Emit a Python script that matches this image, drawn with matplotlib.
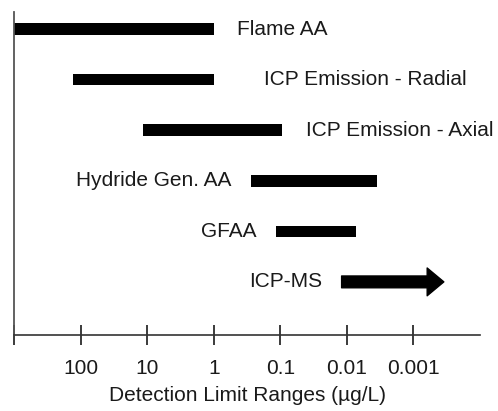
import matplotlib.pyplot as plt
import numpy as np
from matplotlib.ticker import NullLocator

methods = ['Flame AA', 'ICP Emission - Radial', 'ICP Emission - Axial',
           'Hydride Gen. AA', 'GFAA', 'ICP-MS']
high_limit = [1000, 130, 11.5, 0.28, 0.115, 0.012]
low_limit = [1.0, 1.0, 0.093, 0.0035, 0.0072, 0.00035]
tick_values = [1000, 100, 10, 1, 0.1, 0.01, 0.001]
tick_labels = ['', '100', '10', '1', '0.1', '0.01', '0.001']

# where each label sits relative to its bar, gap in points
label_side = ['right', 'right', 'right', 'left', 'left', 'left']
label_gap = [17, 36, 17, 14, 14, 14]

plt.rcParams['font.family'] = ['Liberation Sans', 'DejaVu Sans']

fig = plt.figure(figsize=(4.98, 4.11), dpi=100)
ax = fig.add_axes([0.028, 0.185, 0.936, 0.786])
ax.set_xscale('log')

y = np.arange(len(methods))
for i in range(len(methods) - 1):
    ax.barh(y[i], high_limit[i] - low_limit[i], left=low_limit[i],
            height=0.23, color='black')

# ICP-MS drawn as an arrow (range goes on beyond the axis)
ax.annotate('', xy=(low_limit[-1], y[-1]), xytext=(high_limit[-1], y[-1]),
            arrowprops=dict(arrowstyle='simple,head_width=2.0,head_length=1.2,tail_width=0.85',
                            mutation_scale=10, color='black', shrinkA=0, shrinkB=0))

for i, name in enumerate(methods):
    if label_side[i] == 'right':
        ax.annotate(name, xy=(low_limit[i], y[i]), xytext=(label_gap[i], 0),
                    textcoords='offset points', ha='left', va='center',
                    fontsize=15, color='#1a1a1a')
    else:
        ax.annotate(name, xy=(high_limit[i], y[i]), xytext=(-label_gap[i], 0),
                    textcoords='offset points', ha='right', va='center',
                    fontsize=15, color='#1a1a1a')

ax.set_xlim(1000, 1e-4)
ax.set_ylim(6.05, -0.34)
ax.set_xticks(tick_values, tick_labels)
ax.xaxis.set_minor_locator(NullLocator())
ax.set_yticks([])
ax.spines['top'].set_visible(False)
ax.spines['right'].set_visible(False)
ax.spines['left'].set_color('#555555')
ax.spines['bottom'].set_color('#333333')
ax.spines['left'].set_linewidth(1.3)
ax.spines['bottom'].set_linewidth(1.2)
ax.tick_params(axis='x', direction='inout', length=14, width=1.2, pad=10,
               labelsize=15, colors='#1a1a1a')
ax.set_xlabel('Detection Limit Ranges (µg/L)', fontsize=15, labelpad=6, color='#1a1a1a')

fig.savefig('out.png', dpi=100)
